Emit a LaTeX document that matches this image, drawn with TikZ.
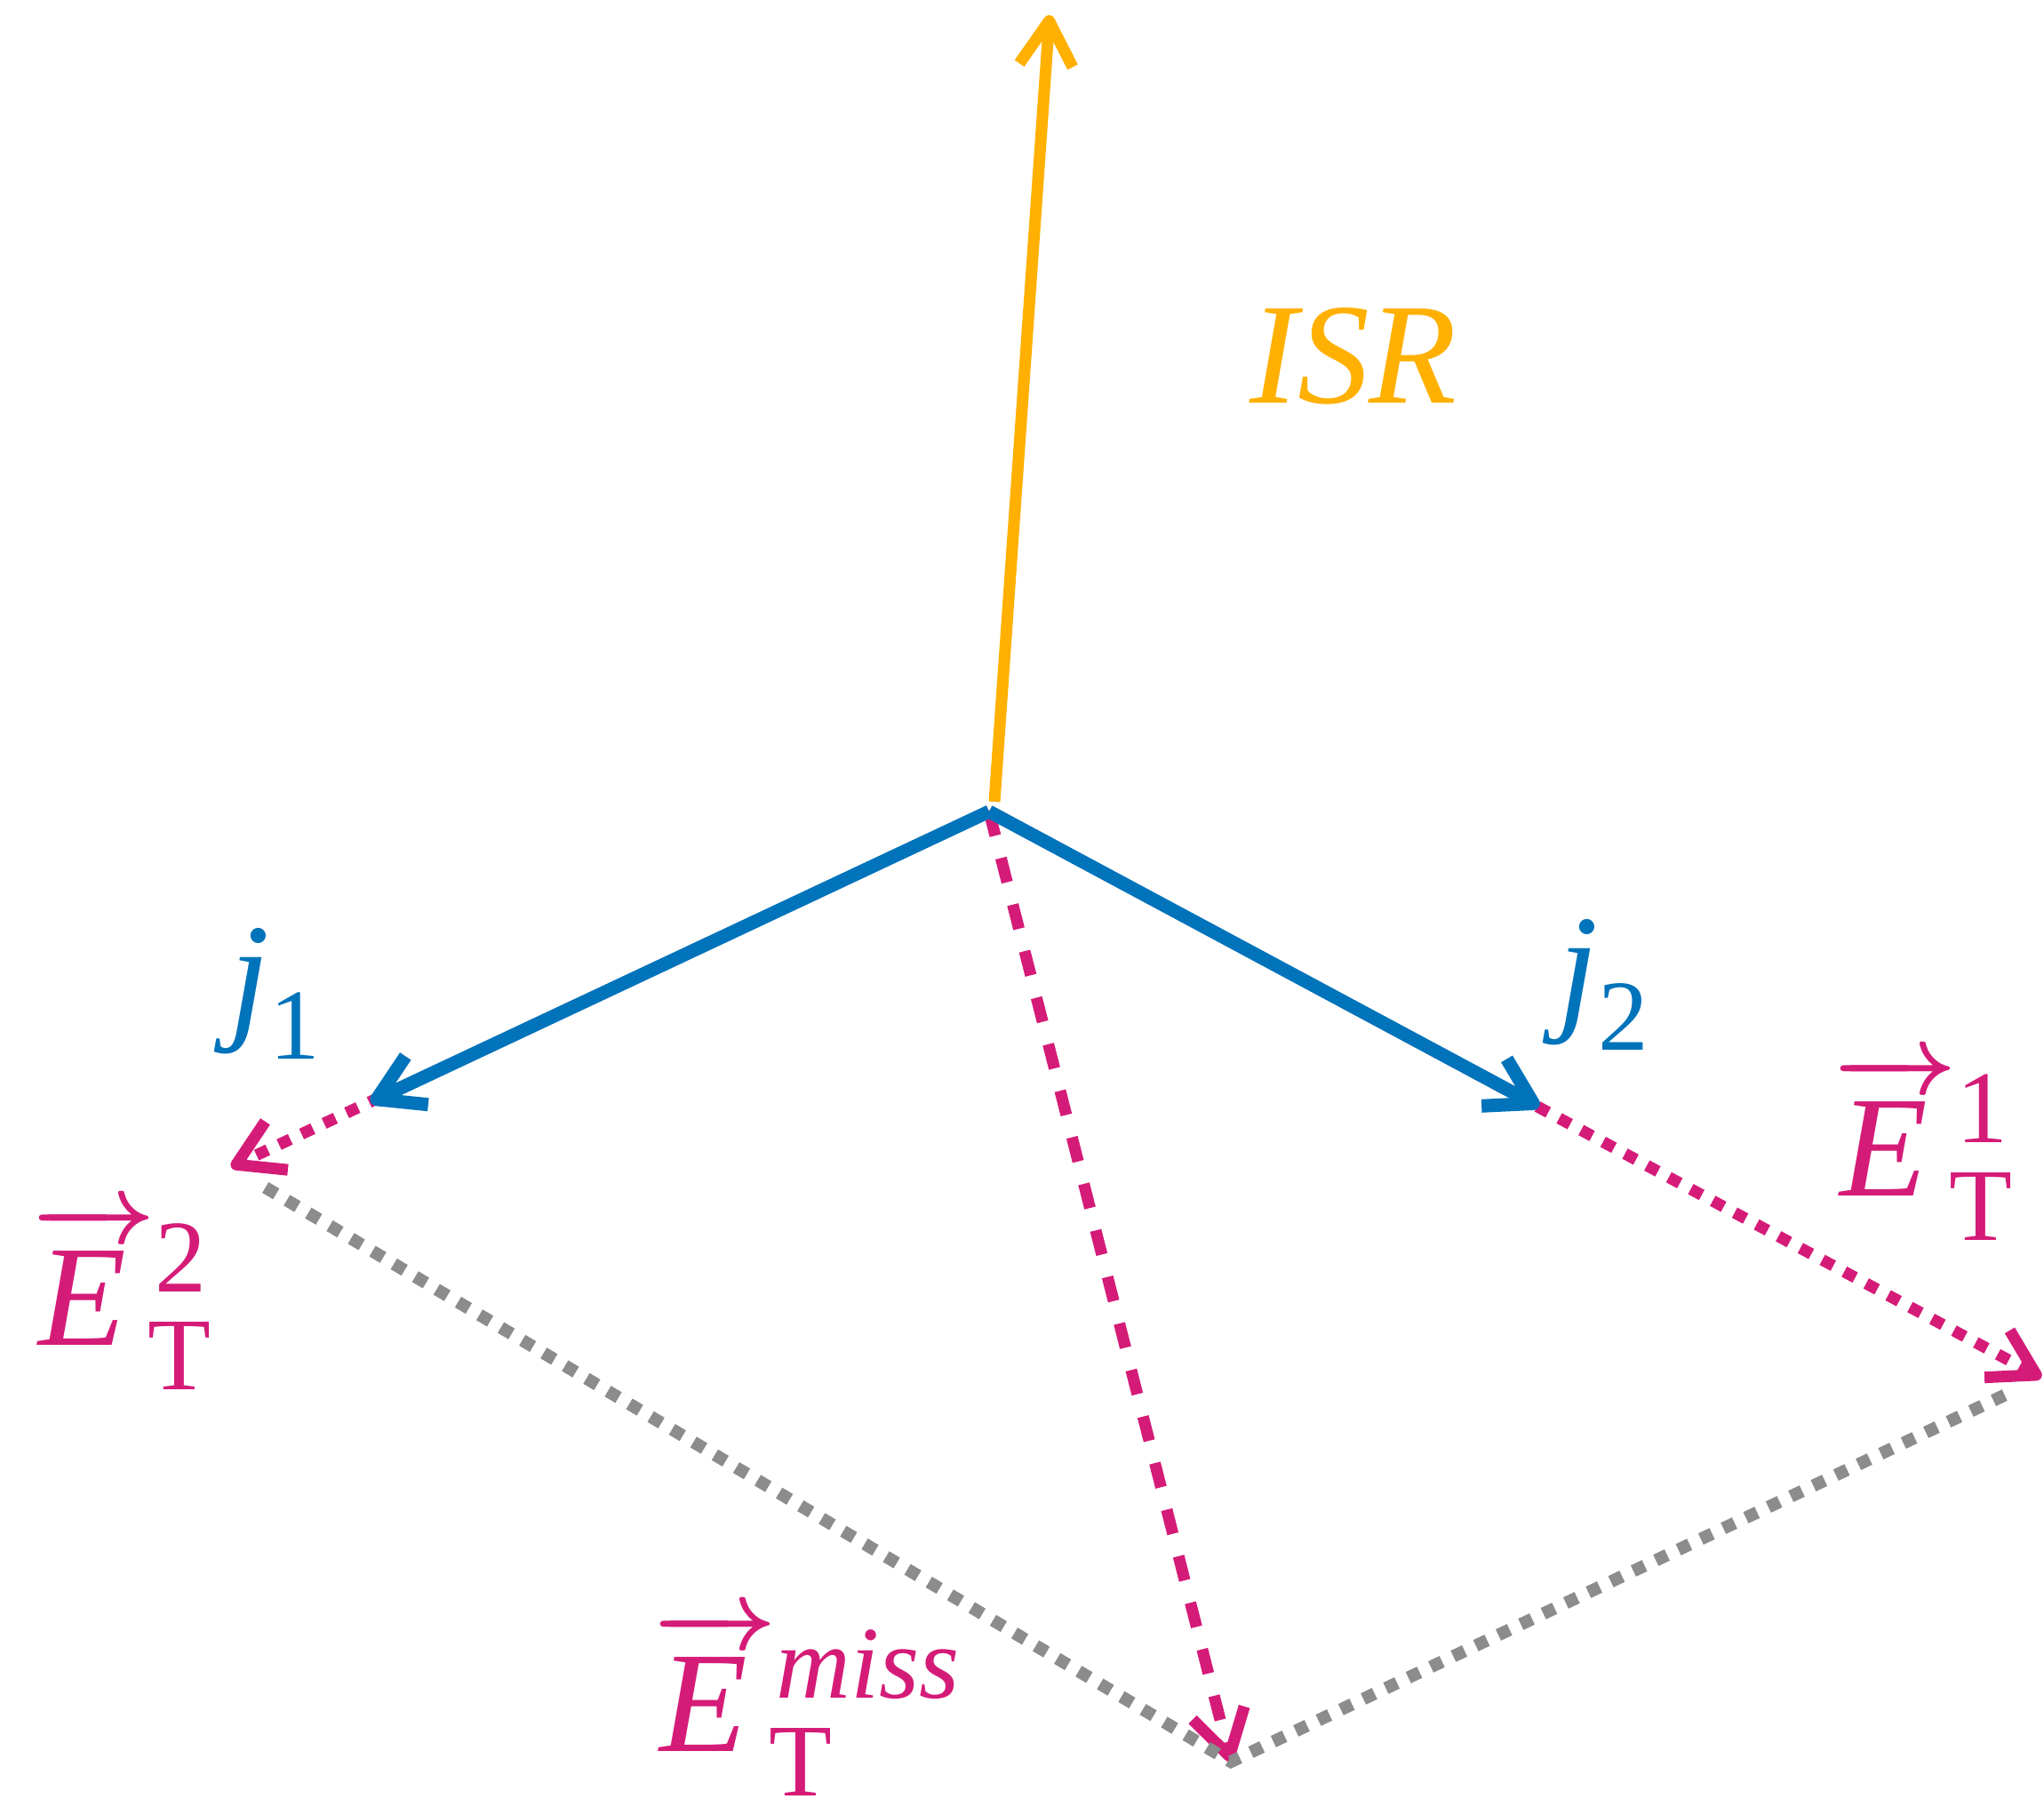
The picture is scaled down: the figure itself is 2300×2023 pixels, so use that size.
\RequirePackage{fix-cm}
\documentclass[tikz,border=0pt]{standalone}
\usepackage{amsmath}
\usepackage{fontspec}
\setmainfont{Liberation Serif}
\usetikzlibrary{arrows.meta}
\definecolor{isrc}{RGB}{255,176,0}
\definecolor{jetc}{RGB}{0,115,186}
\definecolor{metc}{RGB}{213,27,120}
\definecolor{gryc}{RGB}{140,140,140}
\newcommand{\scrsz}{\fontsize{33}{33}\selectfont}
\newsavebox\ebox
\newcommand{\vecE}[2]{\sbox\ebox{\hspace{0.06em}\textit{E}\hspace{0.2em}}%
  \rlap{\raisebox{0.71em}{\makebox[\wd\ebox]{\fontsize{32}{32}\selectfont\boldmath\rightarrowfill}}}\usebox\ebox
  \rlap{\raisebox{0.37em}{\scrsz #1}}\hspace{-0.05em}\raisebox{-0.31em}{\scrsz #2}}
\begin{document}
\begin{tikzpicture}[x=0.01cm,y=-0.01cm,
  barb/.style={-{Straight Barb[length=0.5cm,width=0.6cm,line join=round]}},
  jetline/.style={draw=jetc,line width=0.15cm,barb},
  isrline/.style={draw=isrc,line width=0.13cm,barb},
  etline/.style={draw=metc,line width=0.13cm,dash pattern=on 0.14cm off 0.14cm,barb},
  missline/.style={draw=metc,line width=0.13cm,dash pattern=on 0.28cm off 0.26cm,barb},
  sumline/.style={draw=gryc,line width=0.14cm,dash pattern=on 0.14cm off 0.14cm},
  lab/.style={font=\fontsize{46}{52}\selectfont,inner sep=0pt},
  lbl/.style={lab,text=metc,anchor=base west}]
\useasboundingbox (0,0) rectangle (2300,2023);
\coordinate (O) at (1113,913);
\coordinate (Oi) at (1119,902);
\coordinate (I) at (1181,17);
\coordinate (J1) at (417,1240);
\coordinate (J2) at (1732,1245);
\coordinate (E2) at (260,1313);
\coordinate (E1) at (2297,1550);
\coordinate (M) at (1385,1982);
% missing transverse energy components
\draw[etline] (O) -- (E2);
\draw[etline] (O) -- (E1);
\draw[missline] (O) -- (M);
% jets
\draw[jetline] (O) -- (J1);
\draw[jetline] (O) -- (J2);
% ISR
\draw[isrline] (Oi) -- (I);
% vector sum construction
\draw[sumline,shorten <=0.45cm,shorten >=0.35cm] (E2) -- (M) -- (E1);
% labels
\node[lab,text=isrc] (tisr) at (1523,401) {\textit{ISR}};
\node[lab,text=jetc] (tj1) at (310,1118) {$\textit{j}_{\text{1}}$};
\node[lab,text=jetc] (tj2) at (1805,1108) {$\textit{j}_{\text{2}}$};
\node[lbl] (te1) at (2060,1345) {\vecE{1}{T}};
\node[lbl] (te2) at (33,1513) {\vecE{2}{T}};
\node[lbl] (tem) at (732,1970) {\vecE{\textit{miss}}{T}};
\end{tikzpicture}
\end{document}
